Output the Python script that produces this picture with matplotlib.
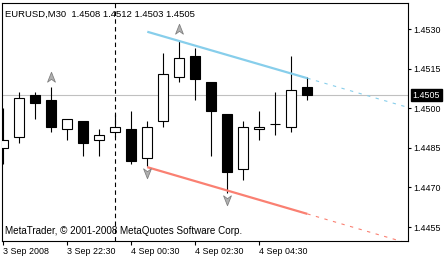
import numpy as np
import matplotlib
matplotlib.use("Agg")
import matplotlib.pyplot as plt
import matplotlib.transforms as mtransforms
from matplotlib.patches import Rectangle
from matplotlib.path import Path

plt.rcParams["font.family"] = ["Liberation Sans", "DejaVu Sans"]

# EURUSD M30 bars, 3 Sep 2008 20:30 onward
opens = [1.4485, 1.4489, 1.4505, 1.4503, 1.4492, 1.4495, 1.4488, 1.4491, 1.4492, 1.4481,
         1.4495, 1.4512, 1.4520, 1.4510, 1.4498, 1.4477, 1.4492, 1.4494, 1.4493, 1.4508]
highs = [1.4500, 1.4506, 1.4506, 1.4508, 1.4496, 1.4495, 1.4492, 1.4498, 1.4499, 1.4495,
         1.4521, 1.4526, 1.4523, 1.4510, 1.4498, 1.4495, 1.4499, 1.4506, 1.4520, 1.4512]
lows = [1.4479, 1.4487, 1.4496, 1.4491, 1.4488, 1.4482, 1.4482, 1.4489, 1.4479, 1.4478,
        1.4493, 1.4510, 1.4503, 1.4482, 1.4468, 1.4473, 1.4488, 1.4490, 1.4491, 1.4503]
closes = [1.4488, 1.4504, 1.4502, 1.4493, 1.4496, 1.4487, 1.4490, 1.4493, 1.4480, 1.4493,
          1.4513, 1.4519, 1.4511, 1.4499, 1.4476, 1.4493, 1.4493, 1.4494, 1.4507, 1.4505]

tick_idx = [0, 4, 8, 12, 16]
tick_labels = ["3 Sep 2008", "3 Sep 22:30", "4 Sep 00:30", "4 Sep 02:30", "4 Sep 04:30"]
price_ticks = [1.4455, 1.4470, 1.4485, 1.4500, 1.4515, 1.4530]

# channel lines (bar index, price)
upper_line = [(9, 1.45290), (19, 1.45114)]
lower_line = [(9, 1.44777), (19, 1.44600)]

fractal_up = [3, 11]
fractal_down = [9, 14]

vline_idx = 7
bid = 1.4505
header = "EURUSD,M30  1.4508 1.4512 1.4503 1.4505"
footer = "MetaTrader, \u00a9 2001-2008 MetaQuotes Software Corp."

fig = plt.figure(figsize=(4.45, 2.58), dpi=100, facecolor="white")
ax = fig.add_axes([2 / 445, 17 / 258, 405.5 / 445, 238 / 258])
ax.set_facecolor("white")
ax.set_xlim(-0.08, 25.26)
ax.set_ylim(1.444973, 1.453989)

# bid line
ax.axhline(bid, color="#c0c0c0", lw=0.8, zorder=1)

# dashed vertical
ax.axvline(vline_idx, color="black", lw=0.8, ls=(0, (4, 3)), zorder=1)

# candles
w = 0.625
for i, (o, h, l, c) in enumerate(zip(opens, highs, lows, closes)):
    ax.plot([i, i], [l, h], color="black", lw=0.8, zorder=2, solid_capstyle="butt")
    lo, hi = min(o, c), max(o, c)
    face = "white" if c >= o else "black"
    ax.add_patch(Rectangle((i - w / 2, lo), w, hi - lo, facecolor=face,
                           edgecolor="black", lw=0.8, zorder=3))


def draw_channel(pts, color):
    (x0, y0), (x1, y1) = pts
    slope = (y1 - y0) / (x1 - x0)
    ax.plot([x0, x1], [y0, y1], color=color, lw=1.6, zorder=4,
            solid_capstyle="butt")
    xe = ax.get_xlim()[1]
    ax.plot([x1, xe], [y1, y1 + slope * (xe - x1)], color=color, lw=0.8,
            ls=(0, (3, 5)), zorder=4)


draw_channel(upper_line, "#87ceeb")
draw_channel(lower_line, "#fa8072")

# fractal arrows
arrow_up = Path([(0, 1), (0.75, -0.9), (0, -0.35), (-0.75, -0.9), (0, 1)],
                [Path.MOVETO, Path.LINETO, Path.LINETO, Path.LINETO, Path.CLOSEPOLY])
arrow_dn = Path([(0, -1), (0.75, 0.9), (0, 0.35), (-0.75, 0.9), (0, -1)],
                [Path.MOVETO, Path.LINETO, Path.LINETO, Path.LINETO, Path.CLOSEPOLY])
up_tr = mtransforms.offset_copy(ax.transData, fig=fig, y=7.5, units="points")
dn_tr = mtransforms.offset_copy(ax.transData, fig=fig, y=-5, units="points")
ax.plot(fractal_up, [highs[i] for i in fractal_up], ls="none", marker=arrow_up,
        ms=7.5, mfc="#b0b0b0", mec="#808080", mew=0.6, transform=up_tr, zorder=5)
ax.plot(fractal_down, [lows[i] for i in fractal_down], ls="none", marker=arrow_dn,
        ms=7.5, mfc="#b0b0b0", mec="#808080", mew=0.6, transform=dn_tr, zorder=5)

# axes styling
for s in ax.spines.values():
    s.set_color("black")
    s.set_linewidth(0.8)
ax.yaxis.tick_right()
ax.set_yticks(price_ticks)
ax.set_yticklabels([f"{p:.4f}" for p in price_ticks])
ax.tick_params(axis="y", direction="out", length=2, width=0.8, labelsize=6.4,
               pad=2, colors="black")
ax.set_xticks(tick_idx)
ax.set_xticklabels(tick_labels, ha="left")
ax.tick_params(axis="x", direction="out", length=3, width=0.8, labelsize=6.4,
               pad=1, colors="black")

# current price label
ax.annotate("1.4505", xy=(1.0, bid), xycoords=("axes fraction", "data"),
            xytext=(3.5, 0), textcoords="offset points", ha="left", va="center",
            fontsize=6.4, color="white",
            bbox=dict(boxstyle="square,pad=0.2", fc="black", ec="black"))

ax.text(3 / 405.5, 1 - 11 / 238, header, transform=ax.transAxes, fontsize=6.8,
        va="center", ha="left", color="black")
ax.text(3 / 405.5, 10 / 238, footer, transform=ax.transAxes, fontsize=7.1,
        va="center", ha="left", color="black")

fig.savefig("out.png", dpi=100, facecolor="white")
